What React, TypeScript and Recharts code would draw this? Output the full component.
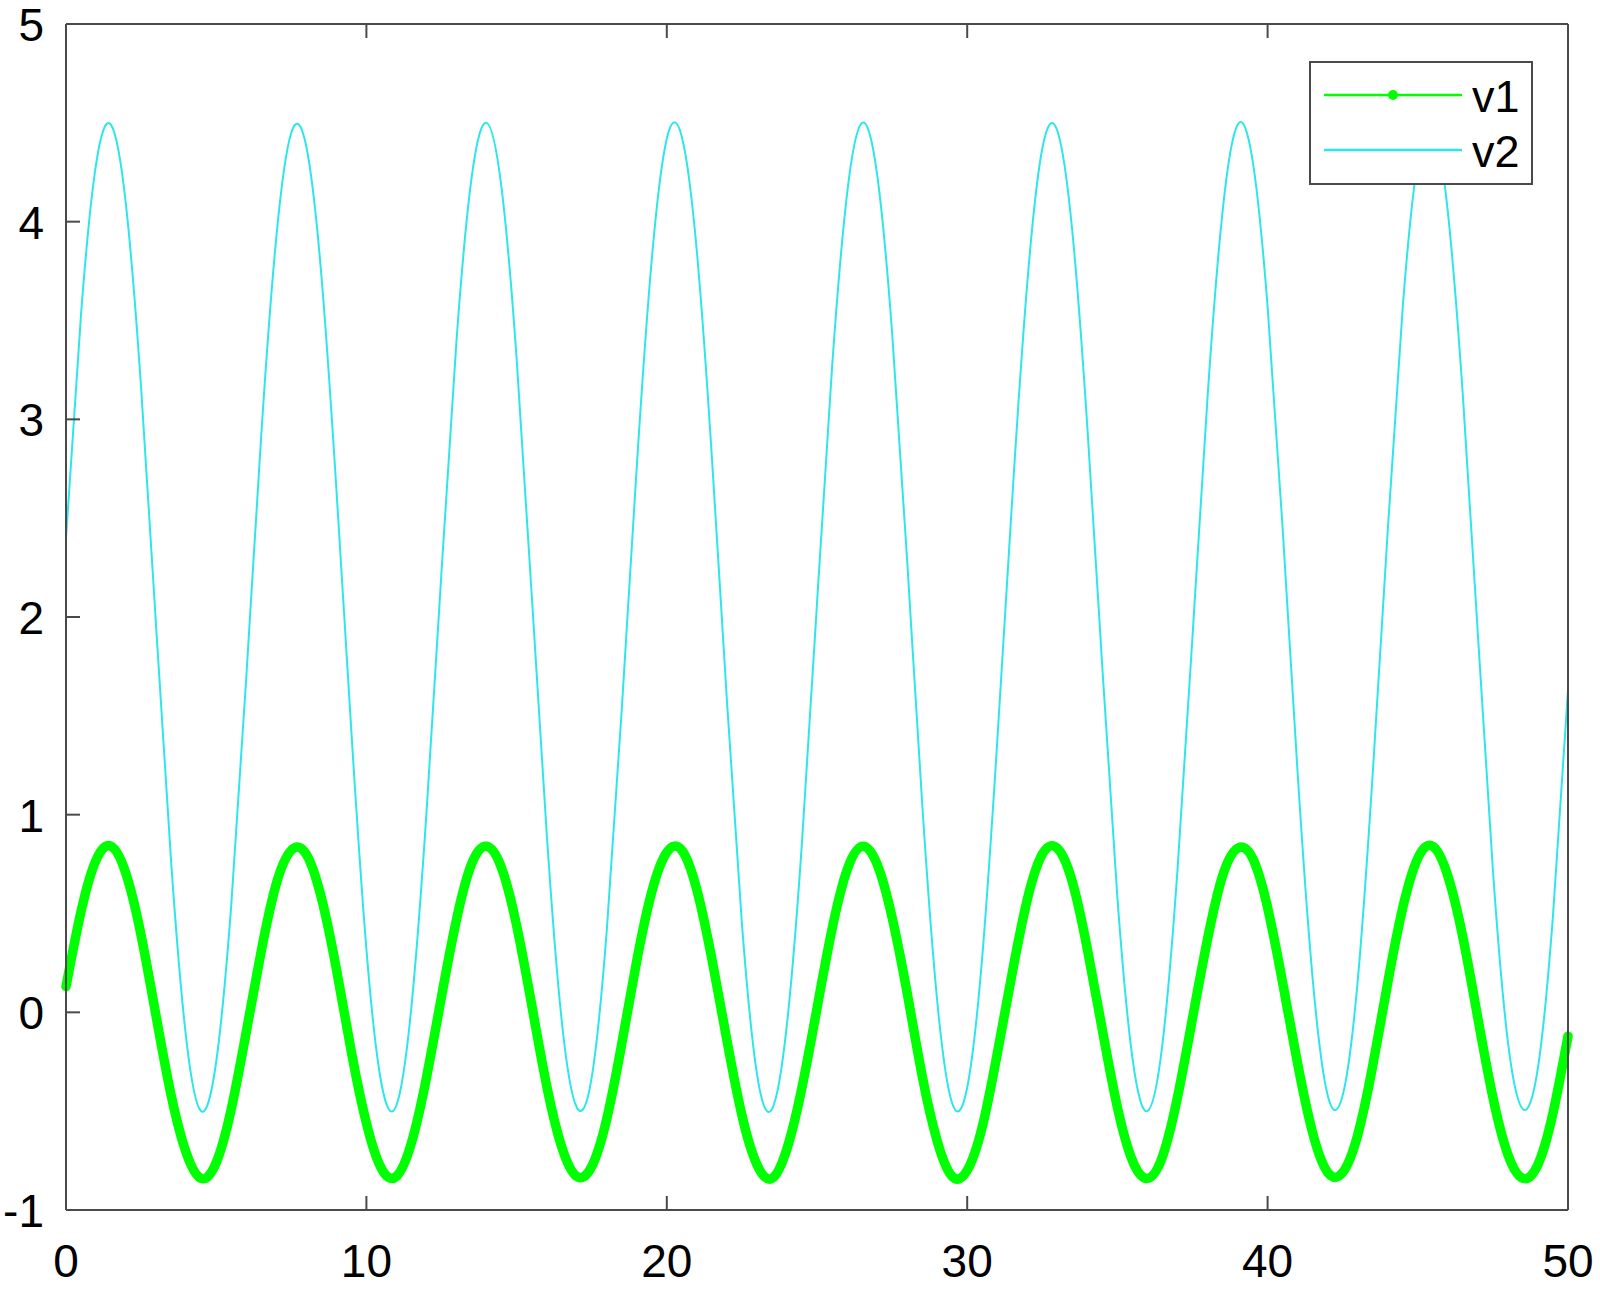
import React from 'react'
import { LineChart, Line, XAxis, YAxis } from 'recharts'

// x positions (step 0.5) and the two curves
const xValues = [
  0, 0.5, 1, 1.5, 2, 2.5, 3, 3.5, 4, 4.5, 5, 5.5, 6, 6.5, 7, 7.5, 8, 8.5, 9, 9.5,
  10, 10.5, 11, 11.5, 12, 12.5, 13, 13.5, 14, 14.5, 15, 15.5, 16, 16.5, 17, 17.5, 18, 18.5, 19, 19.5,
  20, 20.5, 21, 21.5, 22, 22.5, 23, 23.5, 24, 24.5, 25, 25.5, 26, 26.5, 27, 27.5, 28, 28.5, 29, 29.5,
  30, 30.5, 31, 31.5, 32, 32.5, 33, 33.5, 34, 34.5, 35, 35.5, 36, 36.5, 37, 37.5, 38, 38.5, 39, 39.5,
  40, 40.5, 41, 41.5, 42, 42.5, 43, 43.5, 44, 44.5, 45, 45.5, 46, 46.5, 47, 47.5, 48, 48.5, 49, 49.5,
  50,
]

const v1 = [
  0.13, 0.51, 0.77, 0.84, 0.70, 0.39, -0.02, -0.42, -0.71, -0.84, -0.76, -0.49, -0.10, 0.31, 0.65, 0.82, 0.80, 0.58, 0.22, -0.20,
  -0.56, -0.79, -0.83, -0.66, -0.33, 0.08, 0.47, 0.75, 0.84, 0.73, 0.44, 0.04, -0.37, -0.68, -0.83, -0.78, -0.54, -0.16, 0.26, 0.61,
  0.81, 0.82, 0.62, 0.27, -0.14, -0.52, -0.77, -0.84, -0.69, -0.38, 0.02, 0.42, 0.72, 0.84, 0.75, 0.48, 0.10, -0.32, -0.65, -0.83,
  -0.80, -0.58, -0.21, 0.20, 0.57, 0.80, 0.83, 0.66, 0.32, -0.09, -0.48, -0.75, -0.84, -0.73, -0.43, -0.03, 0.37, 0.69, 0.83, 0.78,
  0.53, 0.15, -0.26, -0.61, -0.81, -0.81, -0.62, -0.27, 0.15, 0.53, 0.78, 0.84, 0.69, 0.38, -0.03, -0.43, -0.72, -0.84, -0.77, -0.51,
  -0.12,
]

const v2 = [
  2.40, 3.53, 4.29, 4.49, 4.08, 3.16, 1.95, 0.76, -0.13, -0.50, -0.25, 0.54, 1.69, 2.92, 3.92, 4.45, 4.38, 3.73, 2.65, 1.42,
  0.32, -0.36, -0.47, 0.03, 1.01, 2.23, 3.40, 4.22, 4.50, 4.17, 3.31, 2.12, 0.91, -0.04, -0.48, -0.33, 0.41, 1.53, 2.76, 3.81,
  4.42, 4.43, 3.85, 2.81, 1.58, 0.45, -0.31, -0.49, -0.06, 0.86, 2.07, 3.26, 4.14, 4.50, 4.24, 3.44, 2.29, 1.06, 0.06, -0.46,
  -0.38, 0.28, 1.37, 2.60, 3.69, 4.37, 4.46, 3.95, 2.96, 1.74, 0.58, -0.23, -0.50, -0.16, 0.72, 1.90, 3.11, 4.05, 4.49, 4.31,
  3.57, 2.45, 1.21, 0.17, -0.42, -0.42, 0.16, 1.21, 2.44, 3.57, 4.31, 4.49, 4.05, 3.12, 1.91, 0.72, -0.15, -0.49, -0.28, 0.49,
  1.63,
]

const xTicks = [0, 10, 20, 30, 40, 50]
const yTicks = [-1, 0, 1, 2, 3, 4, 5]

const data = xValues.map((x, i) => ({ x, v1: v1[i], v2: v2[i] }))

const FONT = '"Liberation Sans", Arial, Helvetica, sans-serif'
const AXIS = '#4a4a4a'
const GREEN = '#00ff00'
const CYAN = '#2ee6ea'
const TICK_LEN = 14

const BottomTick = (props: any) => {
  const { x, y, payload } = props
  return (
    <g>
      <line x1={x} y1={y} x2={x} y2={y - TICK_LEN} stroke={AXIS} strokeWidth={2} />
      <text x={x} y={y + 67} textAnchor="middle" fontSize={46} fontFamily={FONT} fill="#000">
        {payload.value}
      </text>
    </g>
  )
}

const LeftTick = (props: any) => {
  const { x, y, payload } = props
  return (
    <g>
      <line x1={x} y1={y} x2={x + TICK_LEN} y2={y} stroke={AXIS} strokeWidth={2} />
      <text x={x - 22} y={y + 17} textAnchor="end" fontSize={46} fontFamily={FONT} fill="#000">
        {payload.value}
      </text>
    </g>
  )
}

const TopTick = (props: any) => {
  const { x, y } = props
  return <line x1={x} y1={y} x2={x} y2={y + TICK_LEN} stroke={AXIS} strokeWidth={2} />
}

const RightTick = (props: any) => {
  const { x, y } = props
  return <line x1={x} y1={y} x2={x - TICK_LEN} y2={y} stroke={AXIS} strokeWidth={2} />
}

const LegendBox = () => (
  <svg width={224} height={124} style={{ display: 'block' }}>
    <rect x={1} y={1} width={222} height={122} fill="#fff" stroke={AXIS} strokeWidth={2} />
    <line x1={15} y1={34} x2={153} y2={34} stroke={GREEN} strokeWidth={2.5} />
    <circle cx={84} cy={34} r={5} fill={GREEN} />
    <text x={163} y={51} fontSize={45} fontFamily={FONT} fill="#000">v1</text>
    <line x1={15} y1={89} x2={153} y2={89} stroke={CYAN} strokeWidth={2.5} />
    <text x={163} y={106} fontSize={45} fontFamily={FONT} fill="#000">v2</text>
  </svg>
)

export default function App() {
  return (
    <div style={{ position: 'absolute', left: 0, top: 0, width: 1600, height: 1290, background: '#fff' }}>
      <LineChart
        width={1600}
        height={1290}
        data={data}
        margin={{ top: 23, right: 31, bottom: 0, left: 0 }}
      >
        <XAxis
          dataKey="x"
          type="number"
          domain={[0, 50]}
          ticks={xTicks}
          height={80}
          tickSize={0}
          tickMargin={0}
          tickLine={false}
          axisLine={{ stroke: AXIS, strokeWidth: 2 }}
          tick={<BottomTick />}
          interval={0}
        />
        <XAxis
          xAxisId="top"
          orientation="top"
          dataKey="x"
          type="number"
          domain={[0, 50]}
          ticks={xTicks}
          height={1}
          tickSize={0}
          tickMargin={0}
          tickLine={false}
          axisLine={{ stroke: AXIS, strokeWidth: 2 }}
          tick={<TopTick />}
          interval={0}
        />
        <YAxis
          type="number"
          domain={[-1, 5]}
          ticks={yTicks}
          width={66}
          tickSize={0}
          tickMargin={0}
          tickLine={false}
          axisLine={{ stroke: AXIS, strokeWidth: 2 }}
          tick={<LeftTick />}
          interval={0}
        />
        <YAxis
          yAxisId="right"
          orientation="right"
          type="number"
          domain={[-1, 5]}
          ticks={yTicks}
          width={1}
          tickSize={0}
          tickMargin={0}
          tickLine={false}
          axisLine={{ stroke: AXIS, strokeWidth: 2 }}
          tick={<RightTick />}
          interval={0}
        />
        <Line
          type="natural"
          dataKey="v2"
          stroke={CYAN}
          strokeWidth={2}
          dot={false}
          activeDot={false}
          isAnimationActive={false}
        />
        <Line
          type="natural"
          dataKey="v1"
          stroke={GREEN}
          strokeWidth={9.5}
          strokeLinecap="round"
          strokeLinejoin="round"
          dot={false}
          activeDot={false}
          isAnimationActive={false}
        />
      </LineChart>
      <div style={{ position: 'absolute', left: 1309, top: 61 }}>
        <LegendBox />
      </div>
    </div>
  )
}
